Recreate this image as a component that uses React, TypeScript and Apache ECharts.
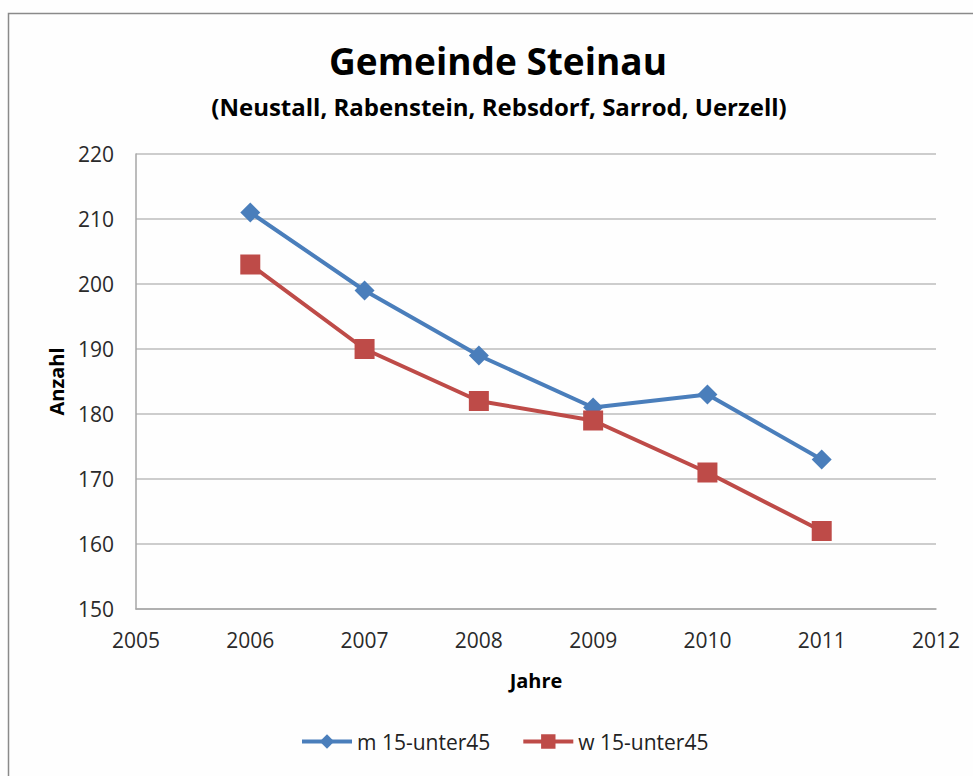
import React, { useEffect, useRef } from "react";
import * as echarts from "echarts";

const years = [2006, 2007, 2008, 2009, 2010, 2011];
const mValues = [211, 199, 189, 181, 183, 173];
const wValues = [203, 190, 182, 179, 171, 162];
const seriesNames = ["m 15-unter45", "w 15-unter45"];

const FONT = "'Open Sans', 'Noto Sans', sans-serif";
const BLUE = "#4a7ebb";
const RED = "#be4b48";

export default function App() {
  const ref = useRef<HTMLDivElement>(null);
  useEffect(() => {
    if (!ref.current) return;
    const chart = echarts.init(ref.current, undefined, { renderer: "svg" });
    chart.setOption({
      animation: false,
      backgroundColor: "#fefefe",
      textStyle: { fontFamily: FONT },
      graphic: [
        {
          type: "rect",
          shape: { x: 8.5, y: 13.5, width: 1000, height: 800 },
          style: { fill: "none", stroke: "#8a8a8a", lineWidth: 1.5 },
          silent: true,
        },
        {
          type: "text",
          x: 498,
          y: 60,
          style: {
            text: "Gemeinde Steinau",
            font: `bold 37px ${FONT}`,
            fill: "#000",
            align: "center",
            verticalAlign: "middle",
          },
        },
        {
          type: "text",
          x: 499,
          y: 106,
          style: {
            text: "(Neustall, Rabenstein, Rebsdorf, Sarrod, Uerzell)",
            font: `bold 24px ${FONT}`,
            fill: "#000",
            align: "center",
            verticalAlign: "middle",
          },
        },
      ],
      grid: { left: 136, top: 154, width: 800, height: 455, containLabel: false },
      legend: {
        bottom: 19,
        left: 295,
        itemWidth: 50,
        itemHeight: 18,
        itemGap: 31,
        textStyle: { fontSize: 21, color: "#222", fontFamily: FONT },
        lineStyle: { width: 4 },
        data: seriesNames,
      },
      xAxis: {
        type: "value",
        min: 2005,
        max: 2012,
        interval: 1,
        name: "Jahre",
        nameLocation: "middle",
        nameGap: 61,
        nameTextStyle: { fontWeight: "bold", fontSize: 20, color: "#000" },
        axisLine: { show: true, lineStyle: { color: "#a6a6a6", width: 1.5 } },
        axisTick: { show: false },
        splitLine: { show: false },
        axisLabel: {
          fontSize: 21,
          color: "#2a2a2a",
          margin: 20,
          formatter: (v: number) => String(v),
        },
      },
      yAxis: {
        type: "value",
        min: 150,
        max: 220,
        interval: 10,
        name: "Anzahl",
        nameLocation: "middle",
        nameGap: 70,
        nameRotate: 90,
        nameTextStyle: { fontWeight: "bold", fontSize: 20, color: "#000" },
        axisLine: { show: true, lineStyle: { color: "#a6a6a6", width: 1.5 } },
        axisTick: { show: false },
        splitLine: { show: true, lineStyle: { color: "#bdbdbd", width: 1.5 } },
        axisLabel: { fontSize: 21, color: "#2a2a2a", margin: 22 },
      },
      series: [
        {
          name: seriesNames[0],
          type: "line",
          data: years.map((y, i) => [y, mValues[i]]),
          symbol: "diamond",
          symbolSize: 20,
          lineStyle: { color: BLUE, width: 4 },
          itemStyle: { color: BLUE },
        },
        {
          name: seriesNames[1],
          type: "line",
          data: years.map((y, i) => [y, wValues[i]]),
          symbol: "rect",
          symbolSize: 20,
          lineStyle: { color: RED, width: 4 },
          itemStyle: { color: RED },
        },
      ],
    });
    return () => chart.dispose();
  }, []);
  return (
    <div
      ref={ref}
      style={{ position: "absolute", left: 0, top: 0, width: 973, height: 776 }}
    />
  );
}
